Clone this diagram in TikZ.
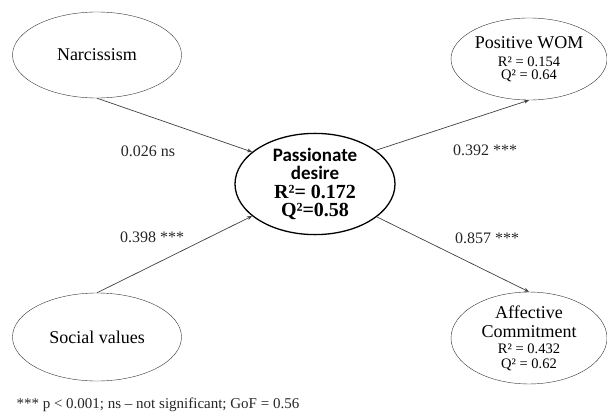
\documentclass[tikz,border=0pt]{standalone}
\usepackage{fontspec}
\setmainfont{Liberation Serif}
\newfontfamily\calibrifont{Carlito}
\usetikzlibrary{shapes.geometric,arrows.meta}
\begin{document}
\begin{tikzpicture}[x=1pt,y=-1pt,
    construct/.style ={ellipse, draw=black!80, inner sep=0pt, align=center},
    path/.style ={draw=black!75, line width=0.7pt, -{Stealth[length=5pt,width=4pt]}},
    coef/.style ={font=\fontsize{16}{18}\selectfont, text=black!85}]
   \useasboundingbox (0,0) rectangle (607,414);
   \node[construct, minimum width=169pt, minimum height=86pt,
         font=\fontsize{18}{20}\selectfont] (narc)  at (97,55)  {Narcissism};
   \node[construct, minimum width=169pt, minimum height=88pt,
         font=\fontsize{18}{20}\selectfont] (social)  at (97,337)  {Social values};
   \node[construct, draw=black, line width=1.3pt, minimum width=160pt, minimum height=94pt,
         font=\bfseries\fontsize{19}{17}\selectfont] (desire)  at (315,184)
     {{\calibrifont Passionate}\\[1pt]
      {\calibrifont desire}\\[2pt]
      {\fontsize{20}{17}\selectfont R²= 0.172}\\[1pt]
      {\fontsize{20}{17}\selectfont Q²=0.58}};
   \node[construct, minimum width=156pt, minimum height=82pt,
         font=\fontsize{14.5}{15}\selectfont] (wom)  at (529,59)
     {{\fontsize{18}{15}\selectfont Positive WOM}\\[3pt]
      R² = 0.154\\[-2pt]
      Q² = 0.64};
   \node[construct, minimum width=156pt, minimum height=90pt,
         font=\fontsize{14.5}{16}\selectfont] (commit)  at (529,338)
     {{\fontsize{18}{16}\selectfont Affective}\\[3pt]
      {\fontsize{18}{16}\selectfont Commitment}\\
      R² = 0.432\\[-1pt]
      Q² = 0.62};
   \draw[path] (narc.south) to  (desire.153);
   \draw[path] (social.north) to  (desire.207);
   \draw[path] (desire.29) to  (wom.south);
   \draw[path] (desire.-28) to  (commit.north);
   \node[coef] (c1)  at (148,151)  {0.026 ns};
   \node[coef] (c2)  at (152,237)  {0.398 ***};
   \node[coef] (c3)  at (485,150)  {0.392 ***};
   \node[coef] (c4)  at (487,238)  {0.857 ***};
   \node[anchor=west, font=\fontsize{15}{17}\selectfont, text=black!85] (note)  at (13,405)
     {*** p < 0.001; ns – not significant; GoF = 0.56};
 \end{tikzpicture}
\end{document}
